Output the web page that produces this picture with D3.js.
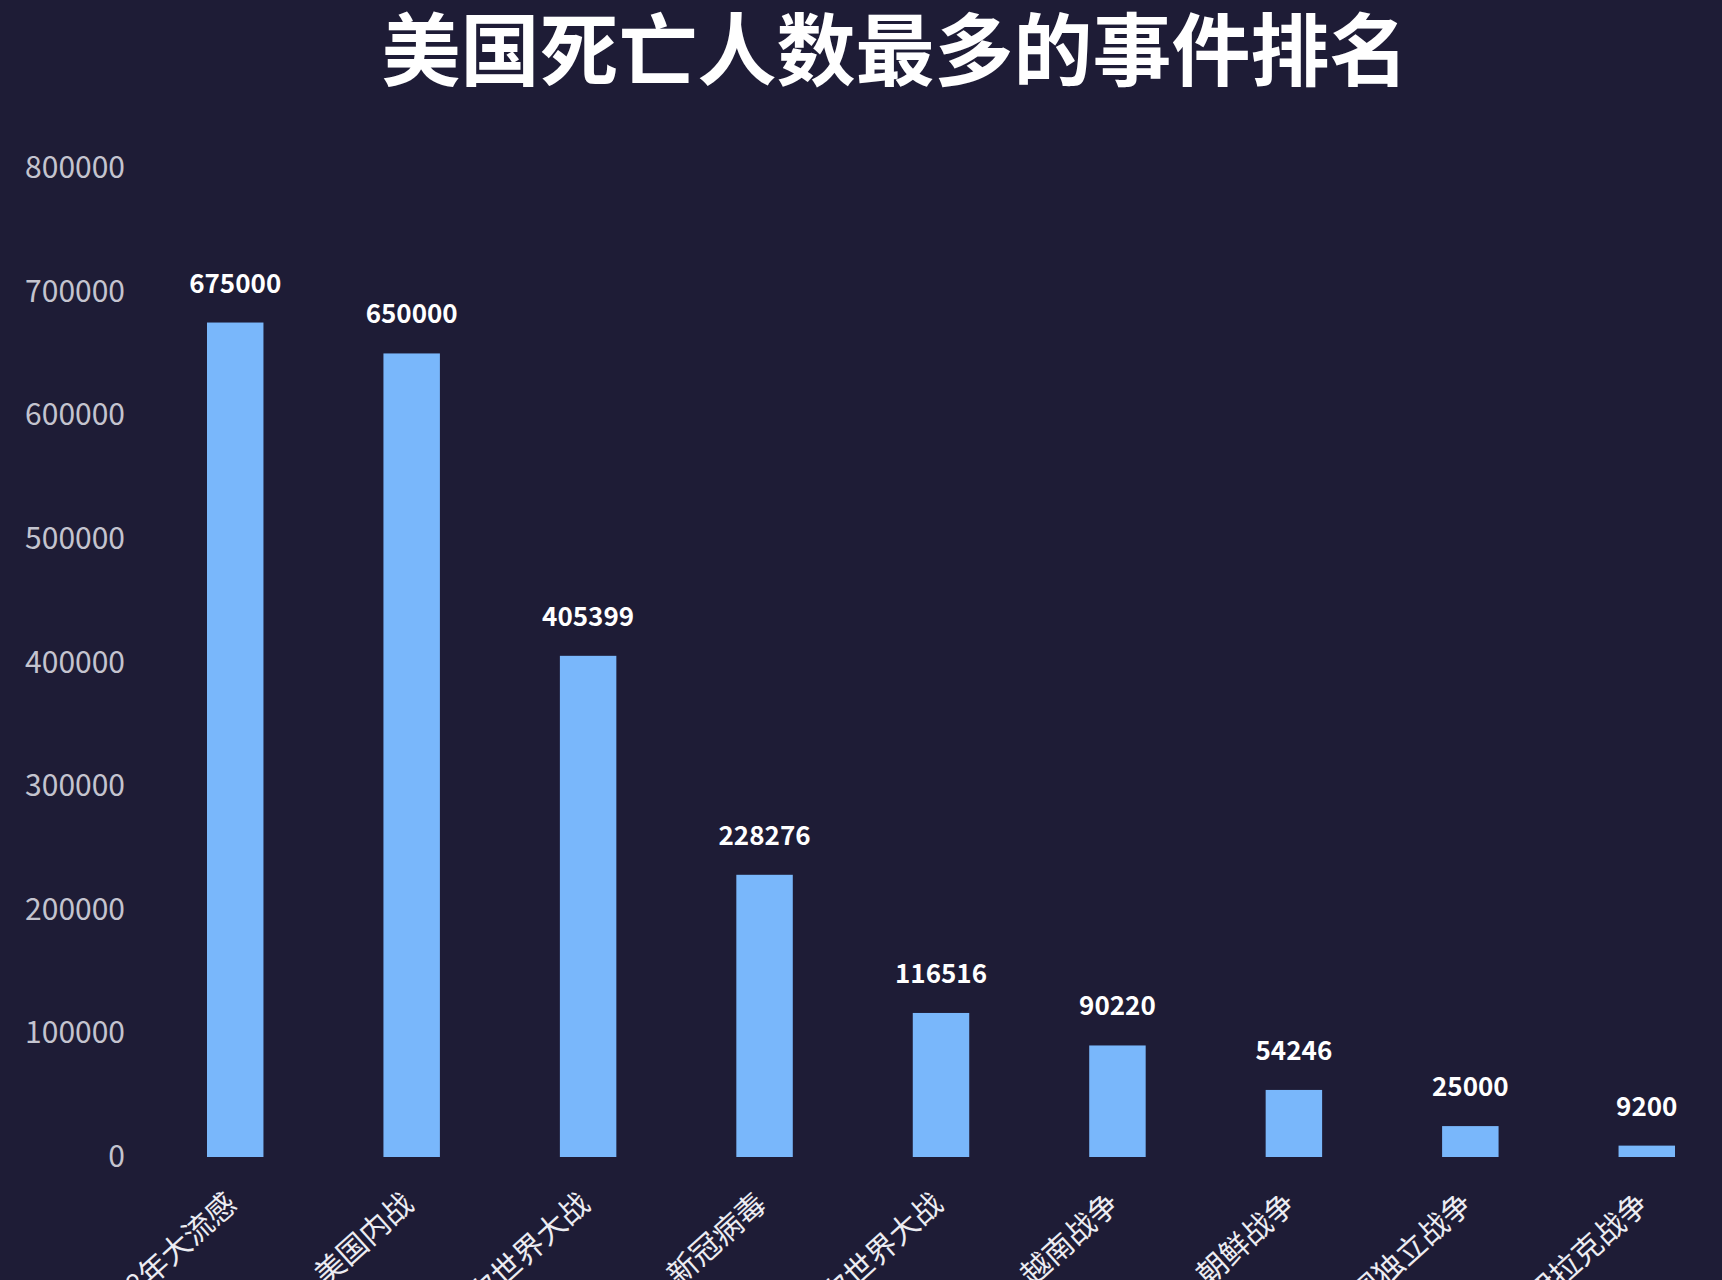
<!DOCTYPE html>
<html>
<head>
<meta charset="utf-8">
<script src="https://cdn.jsdelivr.net/npm/d3@7"></script>
<style>
  html, body { margin: 0; padding: 0; background: #1e1c36; }
  svg { display: block; }
</style>
</head>
<body>
<svg id="chart" width="1722" height="1280"></svg>
<script>
const title = '美国死亡人数最多的事件排名';
const events = ['1918年大流感', '美国内战', '第二次世界大战', '新冠病毒', '第一次世界大战', '越南战争', '朝鲜战争', '美国独立战争', '伊拉克战争'];
const deaths = [675000, 650000, 405399, 228276, 116516, 90220, 54246, 25000, 9200];
const yTicks = [0, 100000, 200000, 300000, 400000, 500000, 600000, 700000, 800000];

const width = 1722, height = 1280;
const font = '"Noto Sans CJK SC", "Noto Sans", sans-serif';

const svg = d3.select('#chart');

svg.append('rect')
  .attr('width', width)
  .attr('height', height)
  .attr('fill', '#1e1c36');

// scales
const x = d3.scaleBand()
  .domain(events)
  .range([147, 1735])
  .paddingInner(0.68)
  .paddingOuter(0.34);

const y = d3.scaleLinear()
  .domain([0, 800000])
  .range([1157, 168]);

// title
svg.append('text')
  .attr('x', 895)
  .attr('y', 45)
  .attr('text-anchor', 'middle')
  .attr('dominant-baseline', 'central')
  .attr('fill', '#ffffff')
  .attr('font-family', font)
  .attr('font-weight', 'bold')
  .attr('font-size', '79px')
  .text(title);

// y axis
const yAxis = svg.append('g')
  .attr('transform', 'translate(125,0)')
  .call(d3.axisLeft(y).tickValues(yTicks).tickFormat(d3.format('d')).tickSize(0).tickPadding(0));
yAxis.select('.domain').remove();
yAxis.selectAll('text')
  .attr('fill', '#c4c4cf')
  .attr('font-family', font)
  .attr('font-size', '30px');

// bars
svg.append('g')
  .selectAll('rect')
  .data(events)
  .join('rect')
  .attr('x', d => x(d))
  .attr('y', (d, i) => y(deaths[i]))
  .attr('width', x.bandwidth())
  .attr('height', (d, i) => y(0) - y(deaths[i]))
  .attr('fill', '#79b7fb');

// value labels
svg.append('g')
  .selectAll('text')
  .data(events)
  .join('text')
  .attr('x', d => x(d) + x.bandwidth() / 2)
  .attr('y', (d, i) => y(deaths[i]) - 30)
  .attr('text-anchor', 'middle')
  .attr('fill', '#ffffff')
  .attr('font-family', font)
  .attr('font-weight', 'bold')
  .attr('font-size', '26px')
  .text((d, i) => deaths[i]);

// x axis labels (rotated)
const xAxis = svg.append('g')
  .attr('transform', `translate(0,${y(0)})`)
  .call(d3.axisBottom(x).tickSize(0).tickPadding(0));
xAxis.select('.domain').remove();
xAxis.selectAll('text')
  .attr('fill', '#ececf2')
  .attr('font-family', font)
  .attr('font-size', '30px')
  .attr('text-anchor', 'end')
  .attr('dominant-baseline', 'central')
  .attr('y', 0)
  .attr('dy', null)
  .attr('transform', 'translate(-5,40) rotate(-42)');
</script>
</body>
</html>
